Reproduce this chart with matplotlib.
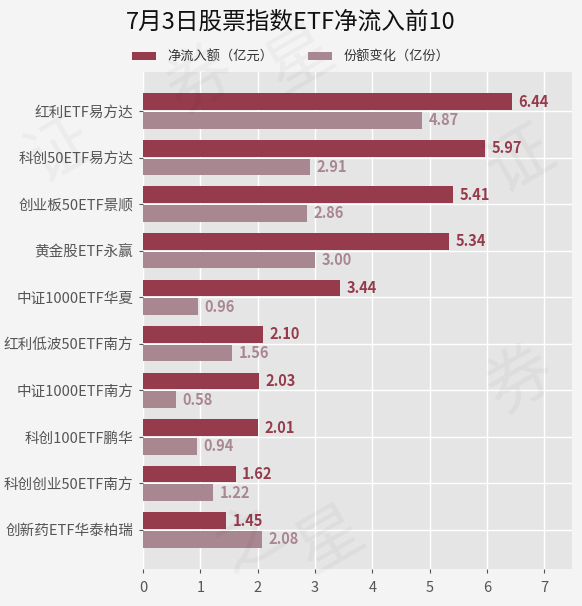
import matplotlib.pyplot as plt
import numpy as np

plt.rcParams['font.family'] = ['Noto Sans CJK SC', 'DejaVu Sans']

names = ['红利ETF易方达', '科创50ETF易方达', '创业板50ETF景顺', '黄金股ETF永赢',
         '中证1000ETF华夏', '红利低波50ETF南方', '中证1000ETF南方', '科创100ETF鹏华',
         '科创创业50ETF南方', '创新药ETF华泰柏瑞']
net_flow = [6.44, 5.97, 5.41, 5.34, 3.44, 2.10, 2.03, 2.01, 1.62, 1.45]
share_chg = [4.87, 2.91, 2.86, 3.00, 0.96, 1.56, 0.58, 0.94, 1.22, 2.08]

dark = '#953B4C'
light = '#A98790'
W, H = 582, 606

fig = plt.figure(figsize=(W / 100, H / 100), dpi=100, facecolor='#F4F4F4')
ax = fig.add_axes([143 / W, 1 - 569 / H, (572 - 143) / W, (569 - 72) / H])
ax.set_facecolor('#E5E5E5')

# watermark, single glyphs kept inside the picture
marks = [('证', 60, 150), ('券', 200, 80), ('星', 300, 60), ('证', 520, 160),
         ('券', 520, 380), ('之', 250, 540), ('星', 330, 540)]
for ch, px, py in marks:
    fig.text(px / W, 1 - py / H, ch, fontsize=48, color='#000000', alpha=0.035,
             rotation=30, ha='center', va='center', zorder=0)

y = np.arange(len(names))
h = 0.36
b1 = ax.barh(y - 0.2, net_flow, height=h, color=dark, label='净流入额（亿元）', zorder=3)
b2 = ax.barh(y + 0.2, share_chg, height=h, color=light, label='份额变化（亿份）', zorder=3)

for v, yy in zip(net_flow, y):
    ax.text(v + 0.11, yy - 0.2, f'{v:.2f}', va='center', ha='left',
            fontsize=10.5, fontweight='bold', color=dark, zorder=4)
for v, yy in zip(share_chg, y):
    ax.text(v + 0.11, yy + 0.2, f'{v:.2f}', va='center', ha='left',
            fontsize=10.5, fontweight='bold', color=light, zorder=4)

ax.set_xlim(0, 7.48)
ax.set_ylim(len(names) - 1 + 0.84, -0.84)
ax.set_yticks(y)
ax.set_yticklabels(names)
ax.set_xticks(range(8))
ax.grid(True, color='white', linewidth=1, zorder=1)
ax.set_axisbelow(True)
for s in ax.spines.values():
    s.set_visible(False)
ax.tick_params(axis='both', colors='#555555', labelsize=10.5, length=3, width=0.8)
ax.tick_params(axis='x', pad=6)
ax.tick_params(axis='y', pad=4)

fig.text(0.5, 1 - 22 / H, '7月3日股票指数ETF净流入前10', ha='center', va='center',
         fontsize=17, color='#111111')
fig.legend(handles=[b1, b2], loc='center', bbox_to_anchor=(0.5, 1 - 57 / H), ncol=2,
           frameon=False, fontsize=9.5, handlelength=1.8, handleheight=0.6,
           handletextpad=0.9, columnspacing=2.6, labelcolor='#333333')

fig.savefig('out.png', dpi=100, facecolor=fig.get_facecolor())
